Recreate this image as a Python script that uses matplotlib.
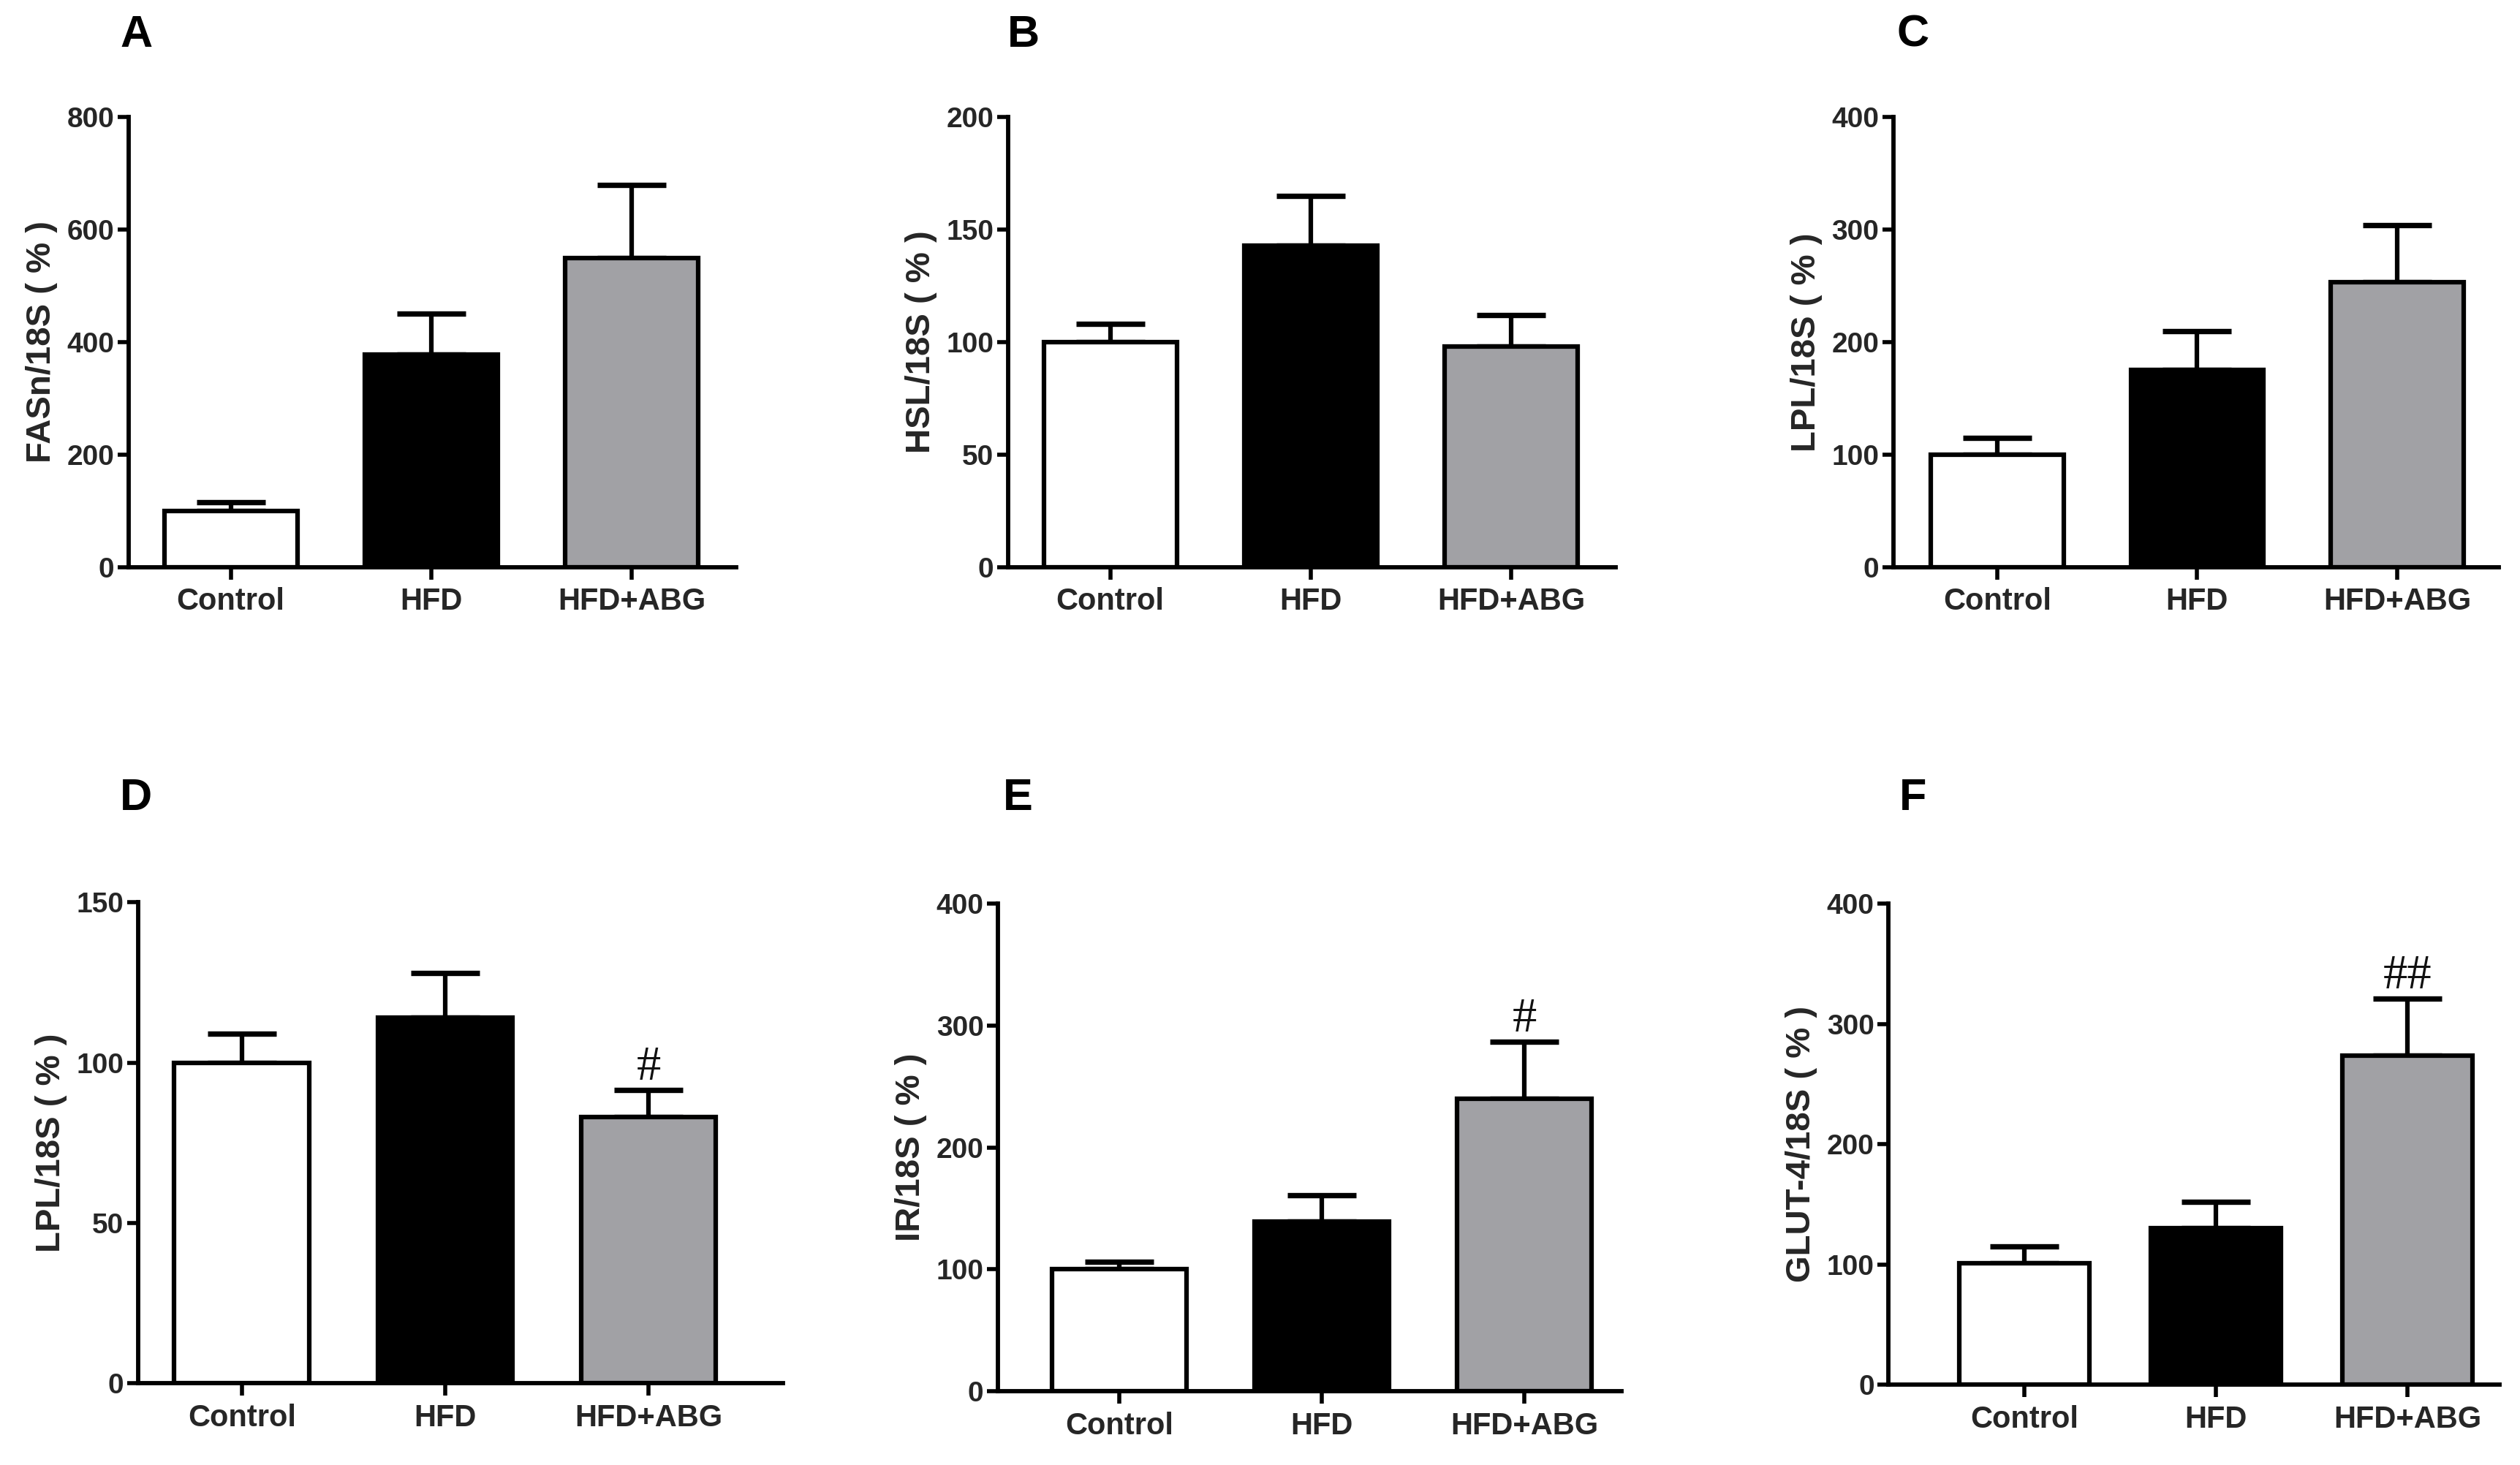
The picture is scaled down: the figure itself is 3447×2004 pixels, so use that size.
import matplotlib
matplotlib.use("Agg")
import matplotlib.pyplot as plt
from matplotlib import font_manager
import numpy as np

groups = ["Control", "HFD", "HFD+ABG"]

panel_letters = ["A", "B", "C", "D", "E", "F"]
ylabels = ["FASn/18S ( % )", "HSL/18S ( % )", "LPL/18S ( % )",
           "LPL/18S ( % )", "IR/18S ( % )", "GLUT-4/18S ( % )"]

means_A = [100, 378, 550]
sem_A = [15, 72, 130]
means_B = [100, 143, 98]
sem_B = [8, 22, 14]
means_C = [100, 175, 253]
sem_C = [15, 35, 51]
means_D = [100, 114, 83]
sem_D = [9, 14, 8.5]
means_E = [100, 139, 240]
sem_E = [6, 22, 47]
means_F = [101, 130, 274]
sem_F = [14, 22, 47]

yticks_A = [0, 200, 400, 600, 800]
yticks_B = [0, 50, 100, 150, 200]
yticks_C = [0, 100, 200, 300, 400]
yticks_D = [0, 50, 100, 150]
yticks_E = [0, 100, 200, 300, 400]
yticks_F = [0, 100, 200, 300, 400]

annot_D = ["", "", "#"]
annot_E = ["", "", "#"]
annot_F = ["", "", "##"]

means = [means_A, means_B, means_C, means_D, means_E, means_F]
sems = [sem_A, sem_B, sem_C, sem_D, sem_E, sem_F]
yticks = [yticks_A, yticks_B, yticks_C, yticks_D, yticks_E, yticks_F]
annots = [None, None, None, annot_D, annot_E, annot_F]

bar_colors = ["#ffffff", "#000000", "#a1a1a5"]

# layout (figure fractions)
rects = [
    (0.0510, 0.613, 0.2411, 0.307),
    (0.4000, 0.613, 0.2411, 0.307),
    (0.7513, 0.613, 0.2404, 0.307),
    (0.0548, 0.056, 0.2558, 0.328),
    (0.3960, 0.0505, 0.2475, 0.3325),
    (0.7494, 0.0548, 0.2424, 0.3282),
]
xlims = [(-0.51, 2.52), (-0.51, 2.52), (-0.52, 2.51),
         (-0.51, 2.66), (-0.60, 2.48), (-0.71, 2.48)]
bar_widths = [0.664, 0.664, 0.664, 0.664, 0.664, 0.68]
letter_pos = [(0.054, 0.976), (0.406, 0.976), (0.759, 0.976),
              (0.054, 0.455), (0.404, 0.455), (0.759, 0.455)]

font = "Liberation Sans"
available = {f.name for f in font_manager.fontManager.ttflist}
if "Liberation Sans Narrow" in available:
    tick_font = "Liberation Sans Narrow"
    xt_size, yt_size = 36, 33
else:
    tick_font = "Liberation Sans"
    xt_size, yt_size = 30, 28

FIG_W, FIG_H = 34.47, 20.04
DPI = 100
fig = plt.figure(figsize=(FIG_W, FIG_H), dpi=DPI)
fig.patch.set_facecolor("white")

lw = 4.5
for i in range(6):
    ax = fig.add_axes(rects[i])
    x = np.arange(len(groups))
    m = means[i]
    s = sems[i]
    ax.errorbar(x, m, yerr=[np.zeros(len(s)), s], fmt="none",
                ecolor="black", elinewidth=lw, capsize=34, capthick=lw + 0.8,
                zorder=1)
    ax.bar(x, m, width=bar_widths[i], color=bar_colors,
           edgecolor="black", linewidth=lw, zorder=2)
    ax.set_xlim(*xlims[i])
    ax.set_ylim(0, yticks[i][-1])
    ax.set_yticks(yticks[i])
    ax.set_xticks(x)
    ax.set_xticklabels(groups, fontsize=xt_size, fontweight="bold",
                       family=tick_font, color="#262626")
    ax.set_yticklabels([str(t) for t in yticks[i]], fontsize=yt_size,
                       fontweight="bold", family=tick_font, color="#262626")
    ax.tick_params(axis="y", direction="out", length=11, width=4, pad=3)
    ax.tick_params(axis="x", direction="out", length=12, width=4, pad=8)
    for sp in ["top", "right"]:
        ax.spines[sp].set_visible(False)
    for sp in ["left", "bottom"]:
        ax.spines[sp].set_linewidth(4.2)
        ax.spines[sp].set_zorder(3)
    ax.set_ylabel(ylabels[i], fontsize=34, fontweight="bold", family=font,
                  color="#262626")
    ax_w_px = rects[i][2] * FIG_W * DPI
    ax.yaxis.set_label_coords(-97.0 / ax_w_px, 0.5)
    if annots[i] is not None:
        for xi, (lab, mv, sv) in enumerate(zip(annots[i], m, s)):
            if lab:
                ax.text(xi, mv + sv, lab, ha="center",
                        va="bottom", fontsize=48,
                        family="Liberation Serif", color="#111111")
    fig.text(letter_pos[i][0], letter_pos[i][1], panel_letters[i],
             fontsize=44, fontweight="bold", family=font,
             ha="center", va="center", color="black")

fig.savefig("out.png", dpi=DPI, facecolor="white")
